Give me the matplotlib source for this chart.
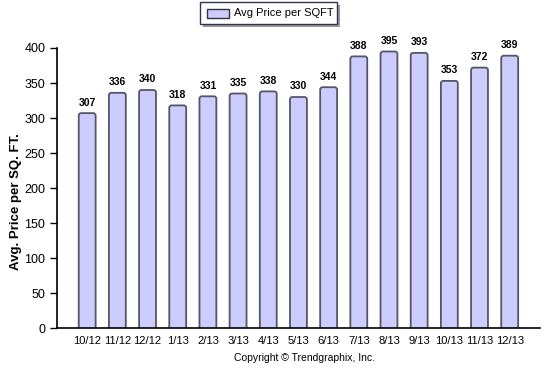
import matplotlib
matplotlib.use('Agg')
import matplotlib.pyplot as plt
from matplotlib.patches import FancyBboxPatch, Rectangle

plt.rcParams['font.family'] = ['Liberation Sans', 'DejaVu Sans']

months = ['10/12', '11/12', '12/12', '1/13', '2/13', '3/13', '4/13', '5/13',
          '6/13', '7/13', '8/13', '9/13', '10/13', '11/13', '12/13']
prices = [307, 336, 340, 318, 331, 335, 338, 330, 344, 388, 395, 393, 353, 372, 389]

bar_color = '#ccccff'
edge_color = '#555566'
bar_w = 0.56

fig = plt.figure(figsize=(5.45, 3.72), dpi=100)
ax = fig.add_axes([0.1046, 0.118, 0.886, 0.753])

ax.set_xlim(-1, len(months))
ax.set_ylim(0, 400)

# rounded-top bars (bottom sits below the axis and is clipped)
pad_x = 0.08
aspect = 45
for i, v in enumerate(prices):
    p = FancyBboxPatch((i - bar_w / 2 + pad_x, -20), bar_w - 2 * pad_x, v + 20 - pad_x * aspect,
                       boxstyle=f'round,pad={pad_x},rounding_size={pad_x}',
                       mutation_aspect=aspect, fc=bar_color, ec=edge_color, lw=1.3,
                       clip_on=True, zorder=2)
    ax.add_patch(p)
    ax.text(i, v + 8, str(v), ha='center', va='bottom', fontsize=7.5, fontweight='bold')

ax.set_xticks(range(len(months)))
ax.set_xticklabels(months, fontsize=8)
ax.tick_params(axis='x', length=0, pad=6)
ax.set_yticks(range(0, 401, 50))
ax.tick_params(axis='y', labelsize=9, length=5, direction='out', width=1)
for s in ['top', 'right']:
    ax.spines[s].set_visible(False)
ax.spines['left'].set_linewidth(1.2)
ax.spines['bottom'].set_linewidth(1.2)

ax.set_ylabel('Avg. Price per SQ. FT.', fontsize=9.5, fontweight='bold')
ax.yaxis.set_label_coords(-0.072, 0.45)

# legend box at top
shadow = Rectangle((203 / 545, 1 - 27 / 372), 137 / 545, 22 / 372, transform=fig.transFigure,
                   fc='#999999', ec='none')
box = Rectangle((200 / 545, 1 - 24 / 372), 137 / 545, 22 / 372, transform=fig.transFigure,
                fc='white', ec='#333355', lw=1)
fig.patches.extend([shadow, box])
fig.patches.append(Rectangle((207 / 545, 1 - 18 / 372), 22 / 545, 9 / 372, transform=fig.transFigure,
                             fc=bar_color, ec='#333344', lw=1))
fig.text(234 / 545, 1 - 13.5 / 372, 'Avg Price per SQFT', fontsize=8, va='center', ha='left')

fig.text(305 / 545, 1 - 358 / 372, 'Copyright \u00a9 Trendgraphix, Inc.', fontsize=7.5,
         ha='center', va='center')

fig.savefig('out.png', dpi=100)
